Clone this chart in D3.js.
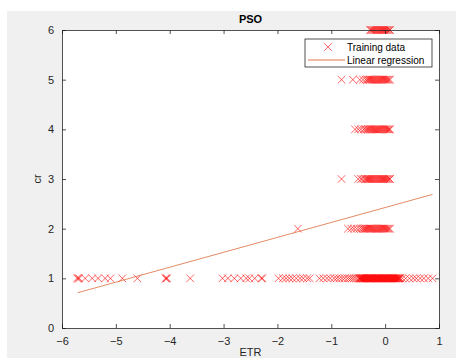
<!DOCTYPE html>
<html>
<head>
<meta charset="utf-8">
<script src="https://cdn.jsdelivr.net/npm/d3@7"></script>
<style>
  body { margin: 0; background: #ffffff; }
  text { font-family: "Liberation Sans", Arial, sans-serif; }
</style>
</head>
<body>
<script>
// Training data, grouped by cr level (ETR values)
var crLevels = [1, 2, 3, 4, 5, 6];
var etrCr1 = [-5.72, -5.70, -5.68, -5.57, -5.44, -5.33, -5.20, -5.10, -4.88, -4.60, -4.08, -4.06, -4.05, -3.62,
  -3.02, -2.92, -2.80, -2.68, -2.58, -2.52, -2.42, -2.30, -2.28,
  -1.98, -1.90, -1.84, -1.78, -1.72, -1.65, -1.58, -1.52, -1.45, -1.40,
  -1.22, -1.15, -1.08, -1.02, -0.95, -0.90, -0.85, -0.80, -0.75, -0.70, -0.66, -0.62, -0.58, -0.54, -0.50,
  -0.48, -0.47, -0.46, -0.45, -0.44, -0.43, -0.42, -0.41, -0.40, -0.39, -0.38, -0.37, -0.36, -0.35,
  -0.34, -0.33, -0.32, -0.31, -0.30, -0.29, -0.28, -0.27, -0.26, -0.25, -0.24, -0.23, -0.22, -0.21,
  -0.20, -0.19, -0.18, -0.17, -0.16, -0.15, -0.14, -0.13, -0.12, -0.11, -0.10, -0.09, -0.08, -0.07,
  -0.06, -0.05, -0.04, -0.03, -0.02, -0.01, 0.00, 0.01, 0.02, 0.03, 0.04, 0.05, 0.06, 0.07, 0.08,
  0.09, 0.10, 0.11, 0.12, 0.13, 0.14, 0.15, 0.16, 0.17, 0.18, 0.19, 0.20, 0.21, 0.22, 0.23, 0.24,
  0.25, 0.26, 0.27, 0.28,
  0.32, 0.38, 0.45, 0.52, 0.58, 0.65, 0.72, 0.80, 0.88];
var etrCr2 = [-1.62, -0.69, -0.63, -0.58, -0.53, -0.48, -0.44, -0.41, -0.39, -0.37, -0.35, -0.33, -0.31,
  -0.29, -0.27, -0.25, -0.23, -0.21, -0.19, -0.17, -0.15, -0.13, -0.11, -0.09, -0.07, -0.05, -0.03,
  -0.01, 0.01, 0.03, 0.05, 0.07, 0.09];
var etrCr3 = [-0.81, -0.50, -0.45, -0.42, -0.38, -0.36, -0.34, -0.32, -0.30, -0.28, -0.26, -0.24, -0.22,
  -0.20, -0.18, -0.16, -0.14, -0.12, -0.10, -0.08, -0.06, -0.04, -0.02, 0.00, 0.02, 0.04, 0.06, 0.08, 0.09];
var etrCr4 = [-0.56, -0.50, -0.45, -0.40, -0.37, -0.34, -0.32, -0.30, -0.28, -0.26, -0.24, -0.22, -0.20,
  -0.18, -0.16, -0.14, -0.12, -0.10, -0.08, -0.06, -0.04, -0.02, 0.00, 0.02, 0.04, 0.06, 0.08, 0.09];
var etrCr5 = [-0.81, -0.60, -0.47, -0.41, -0.36, -0.33, -0.31, -0.29, -0.27, -0.25, -0.23, -0.21, -0.19,
  -0.17, -0.15, -0.13, -0.11, -0.09, -0.07, -0.05, -0.03, -0.01, 0.01, 0.03, 0.05, 0.07, 0.09];
var etrCr6 = [-0.28, -0.26, -0.24, -0.22, -0.20, -0.18, -0.16, -0.14, -0.12, -0.10, -0.08, -0.06, -0.04,
  -0.02, 0.00, 0.02, 0.04, 0.06, 0.08, 0.09];

// Linear regression end points
var regETR = [-5.71, 0.88];
var regCR = [0.71, 2.69];

var xTicks = [-6, -5, -4, -3, -2, -1, 0, 1];
var yTicks = [0, 1, 2, 3, 4, 5, 6];

var svgWidth = 456;
var svgHeight = 358;

// Axes box position in the figure
var margin = { top: 30, right: 17, bottom: 30, left: 62 };
var chartWidth = svgWidth - margin.left - margin.right;
var chartHeight = svgHeight - margin.top - margin.bottom;

var svg = d3.select("body")
  .append("svg")
  .attr("width", svgWidth)
  .attr("height", svgHeight);

// MATLAB figure grey
svg.append("rect")
  .attr("x", 7)
  .attr("y", 11)
  .attr("width", svgWidth - 7)
  .attr("height", svgHeight - 11)
  .attr("fill", "#f0f0f0");

var chartGroup = svg.append("g")
  .attr("transform", `translate(${margin.left}, ${margin.top})`);

var xScale = d3.scaleLinear().domain([-6, 1]).range([0, chartWidth]);
var yScale = d3.scaleLinear().domain([0, 6]).range([chartHeight, 0]);

chartGroup.append("rect")
  .attr("width", chartWidth)
  .attr("height", chartHeight)
  .attr("fill", "#ffffff");

// build point list from the grouped arrays
var groups = [etrCr1, etrCr2, etrCr3, etrCr4, etrCr5, etrCr6];
var points = [];
groups.forEach((g, i) => {
  g.forEach(v => points.push({ etr: v, cr: crLevels[i] }));
});

var cross = "M-3.8,-3.8L3.8,3.8M-3.8,3.8L3.8,-3.8";

var plot = chartGroup.append("g");
plot.selectAll("path.pt")
  .data(points)
  .enter()
  .append("path")
  .attr("class", "pt")
  .attr("d", cross)
  .attr("transform", d => `translate(${xScale(d.etr)}, ${yScale(d.cr)})`)
  .attr("fill", "none")
  .attr("stroke", "#ff0000")
  .attr("stroke-width", 0.75)
  .attr("stroke-opacity", 0.8);

var drawLine = d3.line()
  .x(d => xScale(d[0]))
  .y(d => yScale(d[1]));

chartGroup.append("path")
  .attr("d", drawLine(d3.zip(regETR, regCR)))
  .attr("fill", "none")
  .attr("stroke", "#d95319")
  .attr("stroke-opacity", 0.85)
  .attr("stroke-width", 0.8);

// axes: ticks inward, box on
var axisColor = "#262626";
var bottomAxis = d3.axisBottom(xScale).tickValues(xTicks).tickSize(-4).tickPadding(9).tickFormat(d3.format("d"));
var leftAxis = d3.axisLeft(yScale).tickValues(yTicks).tickSize(-4).tickPadding(8).tickFormat(d3.format("d"));
var topAxis = d3.axisTop(xScale).tickValues(xTicks).tickSize(-4).tickFormat("");
var rightAxis = d3.axisRight(yScale).tickValues(yTicks).tickSize(-4).tickFormat("");

function styleAxis(g) {
  g.select(".domain").attr("stroke", axisColor).attr("stroke-width", 0.8);
  g.selectAll(".tick line").attr("stroke", axisColor).attr("stroke-width", 0.8);
  g.selectAll(".tick text").attr("fill", "#262626").style("font-size", "11px");
}

chartGroup.append("g").attr("transform", `translate(0, ${chartHeight})`).call(bottomAxis).call(styleAxis);
chartGroup.append("g").call(leftAxis).call(styleAxis);
chartGroup.append("g").call(topAxis).call(styleAxis);
chartGroup.append("g").attr("transform", `translate(${chartWidth}, 0)`).call(rightAxis).call(styleAxis);

// title and axis labels
svg.append("text")
  .attr("x", margin.left + chartWidth / 2)
  .attr("y", 23)
  .attr("text-anchor", "middle")
  .style("font-size", "11px")
  .style("font-weight", "bold")
  .attr("fill", "#000")
  .text("PSO");

svg.append("text")
  .attr("transform", `translate(41, ${margin.top + chartHeight / 2}) rotate(-90)`)
  .attr("text-anchor", "middle")
  .style("font-size", "11px")
  .attr("fill", "#262626")
  .text("cr");

svg.append("text")
  .attr("x", margin.left + chartWidth / 2)
  .attr("y", 356)
  .attr("text-anchor", "middle")
  .style("font-size", "11px")
  .attr("fill", "#262626")
  .text("ETR");

// legend
var legend = svg.append("g").attr("transform", "translate(305, 39)");
legend.append("rect")
  .attr("width", 127)
  .attr("height", 28)
  .attr("fill", "#ffffff")
  .attr("stroke", "#262626")
  .attr("stroke-width", 0.8);
legend.append("path")
  .attr("d", cross)
  .attr("transform", "translate(23, 8)")
  .attr("fill", "none")
  .attr("stroke", "#ff0000")
  .attr("stroke-width", 0.75)
  .attr("stroke-opacity", 0.8);
legend.append("line")
  .attr("x1", 3).attr("x2", 40)
  .attr("y1", 21).attr("y2", 21)
  .attr("stroke", "#d95319")
  .attr("stroke-width", 0.8);
legend.append("text")
  .attr("x", 42).attr("y", 12)
  .style("font-size", "10px")
  .attr("fill", "#000")
  .text("Training data");
legend.append("text")
  .attr("x", 42).attr("y", 25)
  .style("font-size", "10px")
  .attr("fill", "#000")
  .text("Linear regression");
</script>
</body>
</html>
